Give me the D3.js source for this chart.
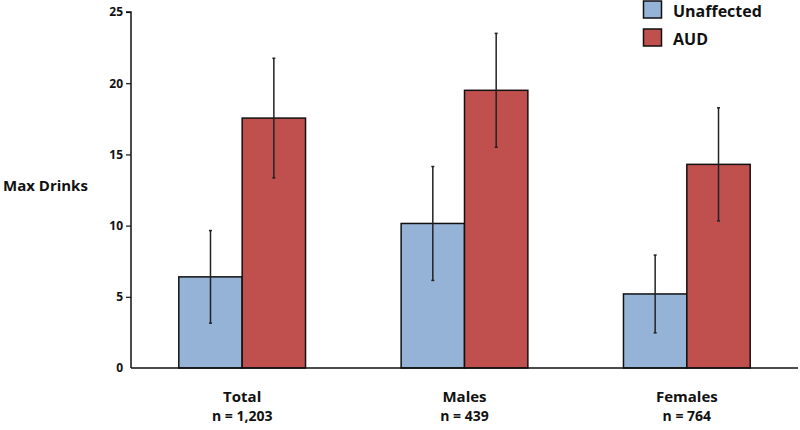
<!DOCTYPE html>
<html><head><meta charset="utf-8">
<script src="https://cdn.jsdelivr.net/npm/d3@7"></script>
<style>body{margin:0;background:#fff}svg{display:block}text{font-family:"Open Sans",sans-serif;font-weight:700;fill:#111}</style>
</head><body>
<script>
const categories = ["Total", "Males", "Females"];
const sampleSizes = ["n = 1,203", "n = 439", "n = 764"];
const seriesNames = ["Unaffected", "AUD"];
const unaffected = [6.4, 10.15, 5.2];
const unaffectedErr = [3.25, 4.0, 2.73];
const aud = [17.55, 19.5, 14.3];
const audErr = [4.2, 4.0, 3.97];
const yTicks = [0, 5, 10, 15, 20, 25];
const colors = ["#95b3d7", "#c0504d"];

const W = 800, H = 430;
const svg = d3.select("body").append("svg").attr("width", W).attr("height", H);
const x0 = 131, x1 = 798, yTop = 12, yBot = 368;
const y = d3.scaleLinear().domain([0, 25]).range([yBot, yTop]);
const xb = d3.scaleBand().domain(categories).range([x0, x1]).paddingInner(0.43).paddingOuter(0.215);
const xs = d3.scaleBand().domain(seriesNames).range([0, xb.bandwidth()]);

const data = [];
categories.forEach((c, i) => {
  data.push({c, s: seriesNames[0], v: unaffected[i], e: unaffectedErr[i], col: colors[0]});
  data.push({c, s: seriesNames[1], v: aud[i], e: audErr[i], col: colors[1]});
});

// bars
svg.append("g").selectAll("rect").data(data).join("rect")
  .attr("x", d => xb(d.c) + xs(d.s))
  .attr("y", d => y(d.v))
  .attr("width", xs.bandwidth())
  .attr("height", d => y(0) - y(d.v))
  .attr("fill", d => d.col)
  .attr("stroke", "#111").attr("stroke-width", 1.5);

// error bars
const eg = svg.append("g").attr("stroke", "#222").attr("stroke-width", 1.5);
data.forEach(d => {
  const cx = xb(d.c) + xs(d.s) + xs.bandwidth() / 2;
  eg.append("line").attr("x1", cx).attr("x2", cx).attr("y1", y(d.v + d.e)).attr("y2", y(d.v - d.e));
  [d.v + d.e, d.v - d.e].forEach(v => eg.append("line").attr("x1", cx - 1.5).attr("x2", cx + 1.5).attr("y1", y(v)).attr("y2", y(v)));
});

// y axis
const ya = svg.append("g").attr("transform", `translate(${x0},0)`)
  .call(d3.axisLeft(y).tickValues(yTicks).tickSize(5).tickPadding(3));
ya.select(".domain").attr("stroke", "#111").attr("stroke-width", 1.5).attr("d", `M-5,${yTop}H0V${yBot}`);
ya.selectAll(".tick line").attr("stroke", "#111").attr("stroke-width", 1.2);
ya.selectAll(".tick text").style("font-size", "12px").style("font-weight", 700).attr("fill", "#111");
ya.selectAll(".tick").filter(d => d === 0).select("line").remove();

// x axis line
svg.append("line").attr("x1", x0).attr("x2", x1).attr("y1", yBot).attr("y2", yBot)
  .attr("stroke", "#111").attr("stroke-width", 1.5);

// category labels
categories.forEach((c, i) => {
  const cx = xb(c) + xb.bandwidth() / 2;
  svg.append("text").attr("x", cx).attr("y", 402).attr("text-anchor", "middle").style("font-size", "15px").text(c);
  svg.append("text").attr("x", cx).attr("y", 421).attr("text-anchor", "middle").style("font-size", "14px").text(sampleSizes[i]);
});

// y title
svg.append("text").attr("x", 3).attr("y", 191).style("font-size", "15px").text("Max Drinks");

// legend
seriesNames.forEach((s, i) => {
  const ly = 1 + i * 28;
  svg.append("rect").attr("x", 643.5).attr("y", ly).attr("width", 18).attr("height", 17)
    .attr("fill", colors[i]).attr("stroke", "#111").attr("stroke-width", 1.5);
  svg.append("text").attr("x", 673).attr("y", ly + 15.5).style("font-size", "16px").text(s);
});
</script>
</body></html>
